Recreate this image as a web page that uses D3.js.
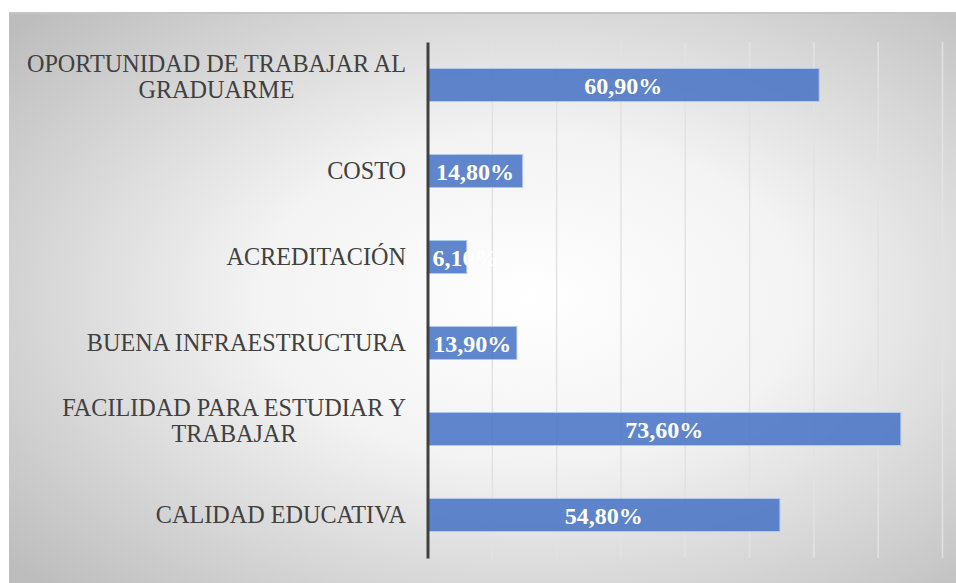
<!DOCTYPE html>
<html><head><meta charset="utf-8">
<script src="https://cdn.jsdelivr.net/npm/d3@7"></script>
<style>html,body{margin:0;padding:0;background:#fff;}svg{display:block;}</style>
</head><body>
<script>
const categories = ["OPORTUNIDAD DE TRABAJAR AL|GRADUARME","COSTO","ACREDITACIÓN","BUENA INFRAESTRUCTURA","FACILIDAD PARA ESTUDIAR Y|TRABAJAR","CALIDAD EDUCATIVA"];
const values = [0.609, 0.148, 0.061, 0.139, 0.736, 0.548];
const valueLabels = ["60,90%","14,80%","6,10%","13,90%","73,60%","54,80%"];
const xTicks = [0,0.1,0.2,0.3,0.4,0.5,0.6,0.7,0.8];

const W = 956, H = 583;
const svg = d3.select("body").append("svg").attr("width", W).attr("height", H);
const defs = svg.append("defs");
const rg = defs.append("radialGradient").attr("id","bg").attr("cx","55%").attr("cy","50%").attr("r","72%");
rg.append("stop").attr("offset","0%").attr("stop-color","#ffffff");
rg.append("stop").attr("offset","40%").attr("stop-color","#f3f3f3");
rg.append("stop").attr("offset","100%").attr("stop-color","#bdbdbd");
const gg = defs.append("linearGradient").attr("id","grid").attr("gradientUnits","userSpaceOnUse")
  .attr("x1",0).attr("y1",42).attr("x2",0).attr("y2",558);
gg.append("stop").attr("offset","0%").attr("stop-color","#e2e2e2");
gg.append("stop").attr("offset","100%").attr("stop-color","#8a8a8a");

svg.append("rect").attr("x",9).attr("y",12).attr("width",W-9).attr("height",H-12).attr("fill","url(#bg)");
svg.append("line").attr("x1",9).attr("x2",W).attr("y1",13).attr("y2",13).attr("stroke","#c4c4c4").attr("stroke-width",2);

const x = d3.scaleLinear().domain([0,0.8]).range([427.5,942]);
const y = d3.scaleBand().domain(categories).range([42,558]).paddingInner(0.616).paddingOuter(0.308);

// gridlines
svg.append("g").attr("transform","translate(0,558)")
  .call(d3.axisBottom(x).tickValues(xTicks.slice(1)).tickSize(-516).tickFormat(""))
  .call(g=>g.select(".domain").remove())
  .call(g=>g.selectAll(".tick line").attr("stroke","url(#grid)").attr("stroke-width",1.5));

// bars
svg.append("g").selectAll("rect").data(categories).join("rect")
  .attr("x", x(0)).attr("y", d=>y(d))
  .attr("width", (d,i)=>x(values[i])-x(0)).attr("height", y.bandwidth())
  .attr("fill","#4472c4").attr("fill-opacity",0.85)
  .attr("stroke","#b4c8ec").attr("stroke-width",1);

// axis line
svg.append("g").attr("transform","translate(427.5,0)")
  .call(d3.axisLeft(y).tickSize(0).tickFormat(""))
  .call(g=>g.select(".domain").attr("stroke","#404040").attr("stroke-width",3));

// category labels
const lab = svg.append("g").style("font-family","'Liberation Serif','Times New Roman',serif").style("font-size","24.2px").attr("fill","#404040");
categories.forEach(c=>{
  const lines = c.split("|");
  const cy = y(c) + y.bandwidth()/2;
  if (lines.length === 1) {
    lab.append("text").attr("x",406).attr("y",cy+8).attr("text-anchor","end").text(lines[0]);
  } else {
    const t1 = lab.append("text").attr("y",cy-13).attr("text-anchor","middle").text(lines[0]);
    const w = t1.node().getComputedTextLength();
    const mx = 406 - w/2;
    t1.attr("x",mx);
    lab.append("text").attr("x",mx).attr("y",cy+12.7).attr("text-anchor","middle").text(lines[1]);
  }
});

// value labels
const vl = svg.append("g").style("font-family","'Liberation Serif','Times New Roman',serif").style("font-size","24px").style("font-weight","bold").attr("fill","#ffffff");
categories.forEach((c,i)=>{
  const cy = y(c) + y.bandwidth()/2;
  const t = vl.append("text").attr("y",cy+8.5).attr("text-anchor","middle").text(valueLabels[i]);
  const w = t.node().getComputedTextLength();
  const center = (x(0)+x(values[i]))/2;
  t.attr("x", Math.max(center, x(0)+5+w/2));
});
</script>
</body></html>
